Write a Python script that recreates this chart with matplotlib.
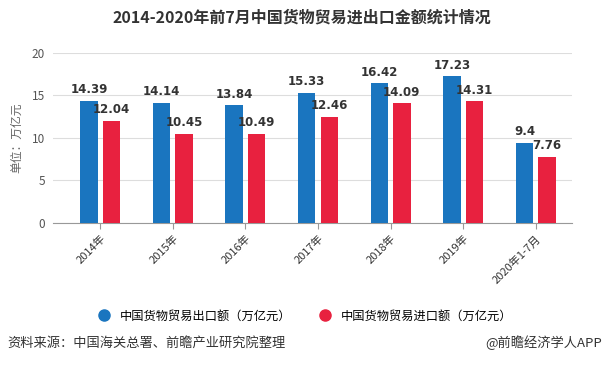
import numpy as np
import matplotlib
matplotlib.use('Agg')
import matplotlib.pyplot as plt
from matplotlib.lines import Line2D

plt.rcParams['font.family'] = ['Noto Sans CJK SC', 'DejaVu Sans']

categories = ['2014年', '2015年', '2016年', '2017年', '2018年', '2019年', '2020年1-7月']
export_vals = [14.39, 14.14, 13.84, 15.33, 16.42, 17.23, 9.4]
import_vals = [12.04, 10.45, 10.49, 12.46, 14.09, 14.31, 7.76]
export_name = '中国货物贸易出口额（万亿元）'
import_name = '中国货物贸易进口额（万亿元）'

BLUE = '#1a75bf'
RED = '#e8213f'

fig = plt.figure(figsize=(6.04, 3.65), dpi=100)
ax = fig.add_axes([0.088, 0.389, 0.859, 0.466])

x = np.arange(len(categories))
w = 0.24
off = 0.155
b1 = ax.bar(x - off, export_vals, w, color=BLUE, zorder=3)
b2 = ax.bar(x + off, import_vals, w, color=RED, zorder=3)

# value labels above bars
for bars, vals in [(b1, export_vals), (b2, import_vals)]:
    for rect, v in zip(bars, vals):
        ax.text(rect.get_x() + rect.get_width() / 2, v + 0.55, f'{v:g}',
                ha='center', va='bottom', fontsize=8.5, fontweight='bold',
                color='#333333', family='DejaVu Sans')

ax.set_ylim(0, 20)
ax.set_xlim(-0.65, 6.5)
ax.set_yticks([0, 5, 10, 15, 20])
ax.yaxis.grid(True, color='#dddddd', linewidth=0.8, zorder=0)
ax.set_axisbelow(True)
for s in ['top', 'right', 'left']:
    ax.spines[s].set_visible(False)
ax.spines['bottom'].set_color('#999999')
ax.tick_params(axis='y', length=0, labelsize=8.5, labelcolor='#555555', pad=6)
ax.tick_params(axis='x', length=4, color='#999999', labelsize=8, labelcolor='#333333')
ax.set_xticks(x)
ax.set_xticklabels(categories, rotation=45, ha='right', rotation_mode='anchor')
ax.set_ylabel('单位：万亿元', fontsize=8.5, color='#666666', labelpad=6)

fig.text(0.5, 0.953, '2014-2020年前7月中国货物贸易进出口金额统计情况', ha='center', va='center',
         fontsize=11.5, fontweight='bold', color='#333333')

h1 = Line2D([], [], marker='o', linestyle='', color=BLUE, markersize=8)
h2 = Line2D([], [], marker='o', linestyle='', color=RED, markersize=8)
fig.legend(handles=[h1, h2], labels=[export_name, import_name], loc='center',
           bbox_to_anchor=(0.5, 0.134), ncol=2, frameon=False, fontsize=8.8,
           handletextpad=0.3, columnspacing=1.8)

fig.text(0.013, 0.06, '资料来源：中国海关总署、前瞻产业研究院整理', ha='left', va='center',
         fontsize=9.5, color='#333333')
fig.text(0.997, 0.06, '@前瞻经济学人APP', ha='right', va='center', fontsize=9.5, color='#333333')

fig.savefig('out.png', dpi=100)
